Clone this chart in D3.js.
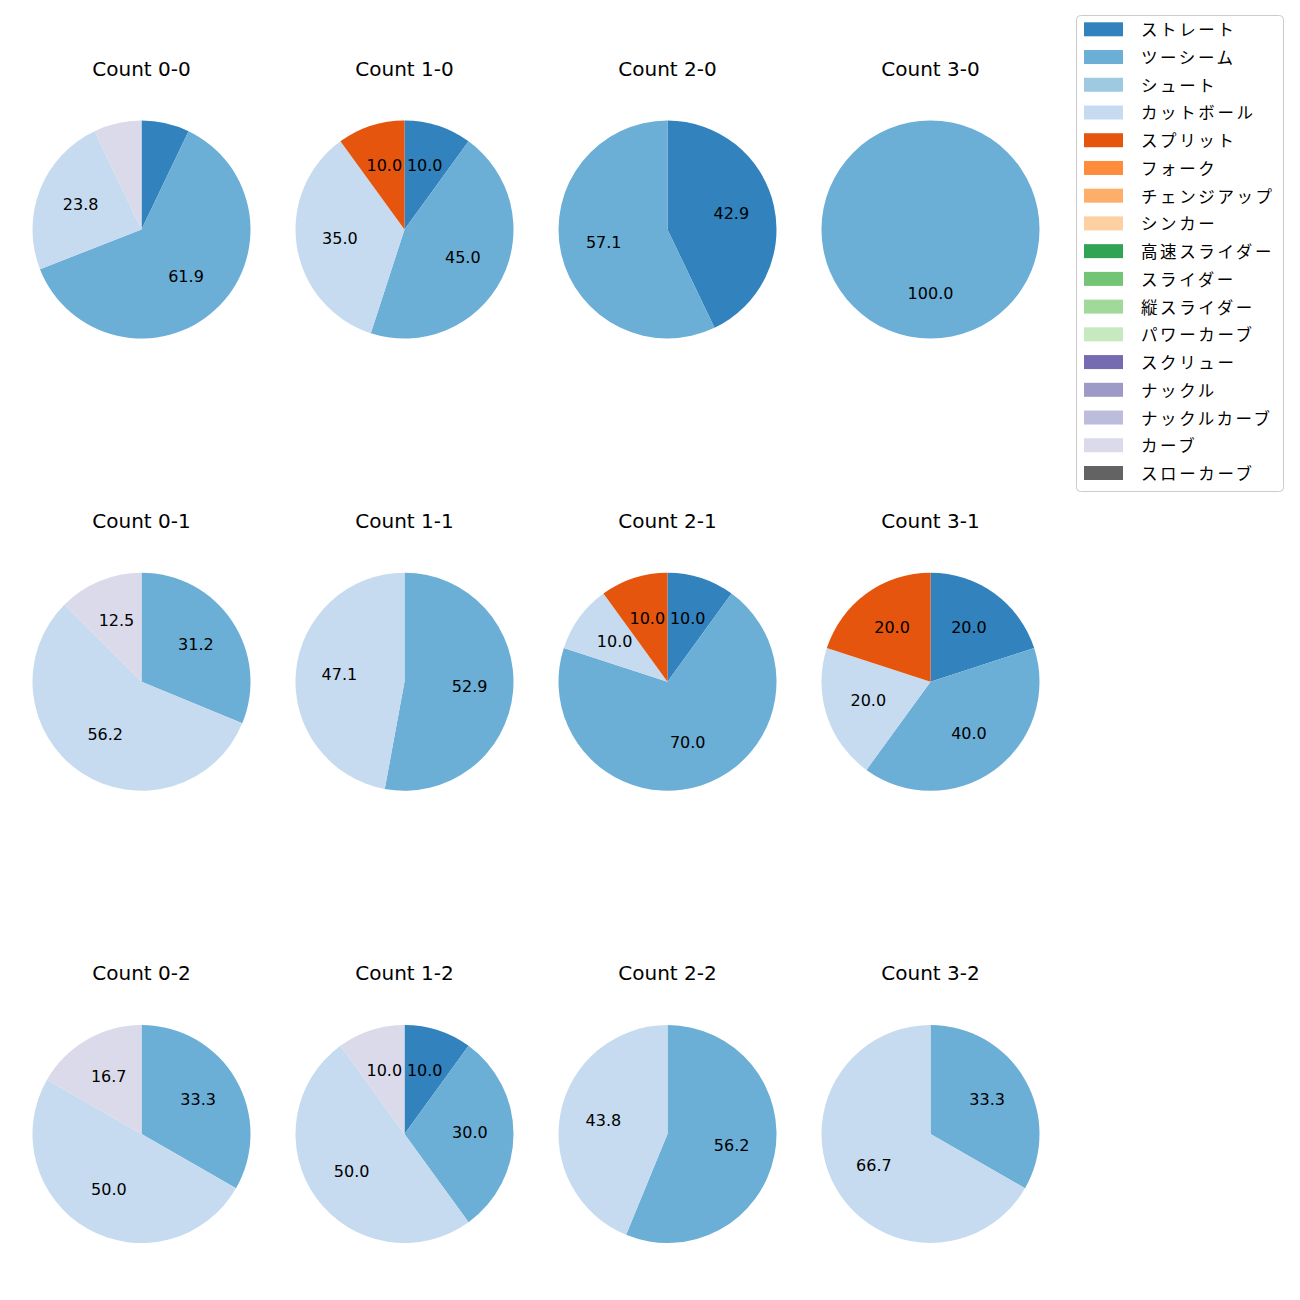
<!DOCTYPE html>
<html>
<head>
<meta charset="utf-8">
<script src="https://cdn.jsdelivr.net/npm/d3@7"></script>
<style>
  html, body { margin: 0; padding: 0; background: #ffffff; }
  svg text { font-family: "DejaVu Sans", "Noto Sans CJK JP", sans-serif; }
  svg text.jp { font-family: "Noto Sans CJK JP", sans-serif; }
</style>
</head>
<body>
<svg id="chart" width="1300" height="1300"></svg>
<script>
// Pitch types (legend order) and their colours (tab20c)
const pitchTypes = ["ストレート","ツーシーム","シュート","カットボール","スプリット","フォーク","チェンジアップ","シンカー","高速スライダー","スライダー","縦スライダー","パワーカーブ","スクリュー","ナックル","ナックルカーブ","カーブ","スローカーブ"];
const pitchColors = ["#3182bd","#6baed6","#9ecae1","#c6dbef","#e6550d","#fd8d3c","#fdae6b","#fdd0a2","#31a354","#74c476","#a1d99b","#c7e9c0","#756bb1","#9e9ac8","#bcbddc","#dadaeb","#636363"];

// Ball counts (columns) and strike counts (rows)
const balls = [0, 1, 2, 3];
const strikes = [0, 1, 2];
const countLabels = ["0-0","1-0","2-0","3-0","0-1","1-1","2-1","3-1","0-2","1-2","2-2","3-2"];

// Share (%) of each pitch type per count, same order as countLabels
const shareStraight = [7.1, 10.0, 42.9, 0,    0,    0,    10.0, 20.0, 0,    10.0, 0,    0];
const shareTwoSeam  = [61.9, 45.0, 57.1, 100.0, 31.2, 52.9, 70.0, 40.0, 33.3, 30.0, 56.2, 33.3];
const shareCutter   = [23.8, 35.0, 0,    0,    56.2, 47.1, 10.0, 20.0, 50.0, 50.0, 43.8, 66.7];
const shareSplit    = [0,    10.0, 0,    0,    0,    0,    10.0, 20.0, 0,    0,    0,    0];
const shareCurve    = [7.1,  0,    0,    0,    12.5, 0,    0,    0,    16.7, 10.0, 0,    0];

const seriesByType = {
  "ストレート": shareStraight,
  "ツーシーム": shareTwoSeam,
  "カットボール": shareCutter,
  "スプリット": shareSplit,
  "カーブ": shareCurve
};

const svg = d3.select("#chart");
const color = d3.scaleOrdinal().domain(pitchTypes).range(pitchColors);

const xCol = d3.scalePoint().domain(balls).range([141.5, 930.5]);
const yRow = d3.scalePoint().domain(strikes).range([229.5, 1134]);
const radius = 109;

const pie = d3.pie().sort(null).value(d => d.value).startAngle(0).endAngle(2 * Math.PI);
const arc = d3.arc().innerRadius(0).outerRadius(radius);
const labelArc = d3.arc().innerRadius(radius * 0.6).outerRadius(radius * 0.6);

countLabels.forEach((c, i) => {
  const b = +c.split("-")[0], s = +c.split("-")[1];
  const cx = xCol(b), cy = yRow(s);
  const data = pitchTypes.map(t => ({ type: t, value: seriesByType[t] ? seriesByType[t][i] : 0 }))
    .filter(d => d.value > 0);
  const g = svg.append("g").attr("transform", `translate(${cx},${cy})`);
  const arcs = pie(data);
  g.selectAll("path").data(arcs).join("path")
    .attr("d", arc)
    .attr("fill", d => color(d.data.type));
  g.selectAll("text.lbl").data(arcs.filter(d => d.data.value >= 9.5)).join("text")
    .attr("class", "lbl")
    .attr("transform", d => `translate(${labelArc.centroid(d)})`)
    .attr("text-anchor", "middle")
    .attr("dy", "0.26em")
    .attr("font-size", "16px")
    .attr("fill", "#000")
    .text(d => d.data.value.toFixed(1));
  svg.append("text")
    .attr("x", cx).attr("y", cy - 154)
    .attr("text-anchor", "middle")
    .attr("font-size", "20px")
    .attr("fill", "#000")
    .text("Count " + c);
});

// Legend
const legX = 1076.5, legY = 15.5, legW = 207, legH = 476;
const rowY = d3.scalePoint().domain(pitchTypes).range([29.3, 473]);
const leg = svg.append("g");
leg.append("rect")
  .attr("x", legX).attr("y", legY).attr("width", legW).attr("height", legH)
  .attr("rx", 4).attr("ry", 4)
  .attr("fill", "#fff").attr("fill-opacity", 0.8)
  .attr("stroke", "#cccccc").attr("stroke-width", 1);
const items = leg.selectAll("g.item").data(pitchTypes).join("g").attr("class", "item");
items.append("rect")
  .attr("x", 1084).attr("y", d => rowY(d) - 7)
  .attr("width", 39).attr("height", 14)
  .attr("fill", d => color(d));
items.append("text")
  .attr("class", "jp")
  .attr("x", 1141).attr("y", d => rowY(d))
  .attr("dominant-baseline", "central")
  .attr("font-size", "16.5px")
  .attr("letter-spacing", "2.6px")
  .attr("fill", "#000")
  .text(d => d);
</script>
</body>
</html>
